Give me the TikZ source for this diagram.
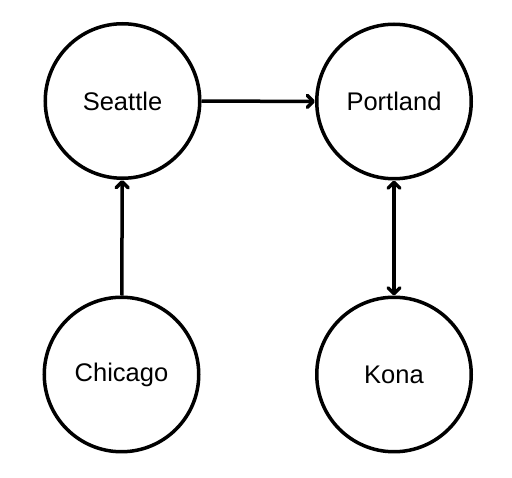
\documentclass[tikz,border=0pt]{standalone}
\usepackage{fontspec}
\setmainfont{Liberation Sans}
\usetikzlibrary{arrows.meta}
\begin{document}
\begin{tikzpicture}[x=1pt,y=-1pt,
  city/.style={circle,draw=black,line width=3.5pt,minimum size=154.5pt,inner sep=0pt,
    font=\fontsize{25.5}{30}\selectfont},
  tip/.tip={Straight Barb[length=6pt,width=12pt,round]},
  link/.style={line width=3.5pt,-tip},
  link2/.style={line width=3.5pt,tip-tip}]
\useasboundingbox (0,0) rectangle (512,478);
\node[city] (seattle) at (122.5,101) {Seattle};
\node[city] (portland) at (394,101.5) {Portland};
\node[city] (chicago) at (121.5,374.5) {Chicago};
\node[city] (kona) at (394,374.5) {Kona};
\draw[link] (seattle) -- (portland);
\draw[link] (chicago) -- (seattle);
\draw[link2] (portland) -- (kona);
\end{tikzpicture}
\end{document}
